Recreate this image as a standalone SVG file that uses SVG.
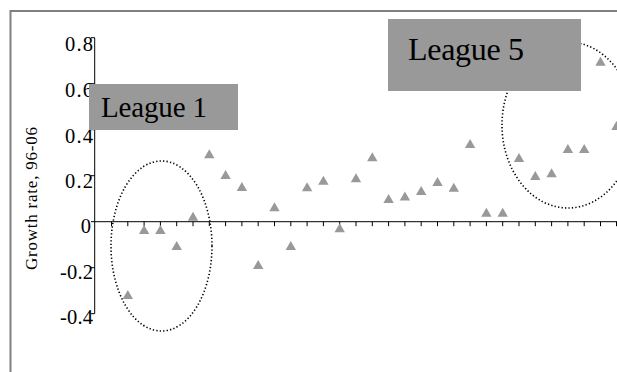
<svg xmlns="http://www.w3.org/2000/svg" xmlns:xlink="http://www.w3.org/1999/xlink" width="617" height="372" viewBox="0 0 617 372">
<style>
.frame{stroke:#808080;stroke-width:2;fill:none}
.axis{stroke:#000;stroke-width:1;fill:none}
.tl{font-family:"Liberation Serif","Times New Roman",serif;font-size:20.5px;fill:#000;text-anchor:end}
.yl{font-family:"Liberation Serif","Times New Roman",serif;font-size:17px;fill:#000;text-anchor:middle}
.box{fill:#999999}
.bt{font-family:"Liberation Serif","Times New Roman",serif;fill:#000}
.ell{fill:none;stroke:#000;stroke-width:1.6;stroke-dasharray:1.3 2.2}
.pt{fill:#999999}
</style>
<defs>
<path id="tri" d="M0,-5 L5.2,4 L-5.2,4 Z"/>
</defs>
<rect width="617" height="372" fill="#fff"/>
<g id="frame">
<path class="frame" d="M10.5,372 V11 H617"/>
</g>
<g id="y-axis">
<path class="axis" d="M94.7,37.7 V313.7 M91,37.7 H94.7 M91,83.7 H94.7 M91,129.7 H94.7 M91,175.7 H94.7 M91,221.7 H94.7 M91,267.7 H94.7 M91,313.7 H94.7"/>
<text class="tl" x="93" y="50.5" textLength="28">0.8</text>
<text class="tl" x="93" y="97" textLength="28">0.6</text>
<text class="tl" x="93" y="142.5" textLength="28">0.4</text>
<text class="tl" x="93" y="187.5" textLength="28">0.2</text>
<text class="tl" x="91" y="233">0</text>
<text class="tl" x="93" y="278.8" textLength="33">-0.2</text>
<text class="tl" x="93" y="324" textLength="33">-0.4</text>
<text class="yl" transform="translate(37,198.5) rotate(-90)" textLength="143">Growth rate, 96-06</text>
</g>
<g id="x-axis">
<path class="axis" d="M94.7,221.7 H617 M111.5,221.7 v4.5 M127.8,221.7 v4.5 M144.1,221.7 v4.5 M160.4,221.7 v4.5 M176.7,221.7 v4.5 M193,221.7 v4.5 M209.3,221.7 v4.5 M225.6,221.7 v4.5 M241.9,221.7 v4.5 M258.2,221.7 v4.5 M274.5,221.7 v4.5 M290.8,221.7 v4.5 M307.1,221.7 v4.5 M323.4,221.7 v4.5 M339.7,221.7 v4.5 M356,221.7 v4.5 M372.3,221.7 v4.5 M388.6,221.7 v4.5 M404.9,221.7 v4.5 M421.2,221.7 v4.5 M437.5,221.7 v4.5 M453.8,221.7 v4.5 M470.1,221.7 v4.5 M486.4,221.7 v4.5 M502.7,221.7 v4.5 M519,221.7 v4.5 M535.3,221.7 v4.5 M551.6,221.7 v4.5 M567.9,221.7 v4.5 M584.2,221.7 v4.5 M600.5,221.7 v4.5 M616.5,221.7 v4.5"/>
</g>
<g id="points" class="pt">
<use xlink:href="#tri" x="127.8" y="295"/>
<use xlink:href="#tri" x="144.1" y="230"/>
<use xlink:href="#tri" x="160.4" y="230"/>
<use xlink:href="#tri" x="176.7" y="246"/>
<use xlink:href="#tri" x="193" y="216.7"/>
<use xlink:href="#tri" x="209.3" y="154.3"/>
<use xlink:href="#tri" x="225.6" y="175"/>
<use xlink:href="#tri" x="241.9" y="187"/>
<use xlink:href="#tri" x="258.2" y="265"/>
<use xlink:href="#tri" x="274.5" y="207.3"/>
<use xlink:href="#tri" x="290.8" y="246"/>
<use xlink:href="#tri" x="307.1" y="187.3"/>
<use xlink:href="#tri" x="323.4" y="180.7"/>
<use xlink:href="#tri" x="339.7" y="228.3"/>
<use xlink:href="#tri" x="356" y="178.3"/>
<use xlink:href="#tri" x="372.3" y="157.3"/>
<use xlink:href="#tri" x="388.6" y="199"/>
<use xlink:href="#tri" x="404.9" y="196.5"/>
<use xlink:href="#tri" x="421.2" y="191"/>
<use xlink:href="#tri" x="437.5" y="182"/>
<use xlink:href="#tri" x="453.8" y="187.7"/>
<use xlink:href="#tri" x="470.1" y="144"/>
<use xlink:href="#tri" x="486.4" y="212.7"/>
<use xlink:href="#tri" x="502.7" y="212.7"/>
<use xlink:href="#tri" x="519" y="158"/>
<use xlink:href="#tri" x="535.3" y="176"/>
<use xlink:href="#tri" x="551.6" y="173.3"/>
<use xlink:href="#tri" x="567.9" y="149"/>
<use xlink:href="#tri" x="584.2" y="149"/>
<use xlink:href="#tri" x="600.5" y="61.7"/>
<use xlink:href="#tri" x="616.5" y="126"/>
</g>
<g id="ellipse-league1">
<ellipse class="ell" cx="161.5" cy="246" rx="50.5" ry="85"/>
</g>
<g id="ellipse-league5">
<ellipse class="ell" cx="568" cy="125" rx="66" ry="83"/>
</g>
<g id="league1">
<rect class="box" x="89" y="84" width="149" height="46"/>
<text class="bt" x="101" y="117" font-size="29" textLength="106">League 1</text>
</g>
<g id="league5">
<rect class="box" x="388" y="19" width="193" height="72"/>
<text class="bt" x="408" y="60" font-size="32" textLength="116">League 5</text>
</g>
</svg>
